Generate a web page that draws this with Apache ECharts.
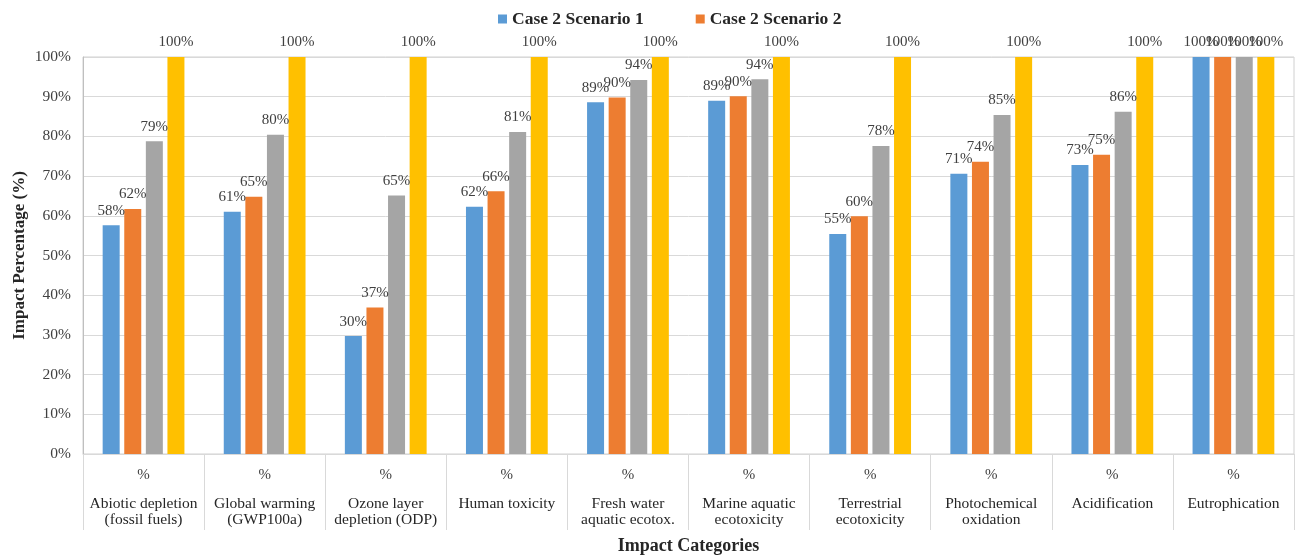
<!DOCTYPE html>
<html>
<head>
<meta charset="utf-8">
<script src="https://cdn.jsdelivr.net/npm/echarts@6/dist/echarts.min.js"></script>
<style>
  html, body { margin: 0; padding: 0; background: #fff; }
  #chart { width: 1296px; height: 555px; }
</style>
</head>
<body>
<div id="chart"></div>
<script>
var categories = [
  'Abiotic depletion\n(fossil fuels)',
  'Global warming\n(GWP100a)',
  'Ozone layer\ndepletion (ODP)',
  'Human toxicity',
  'Fresh water\naquatic ecotox.',
  'Marine aquatic\necotoxicity',
  'Terrestrial\necotoxicity',
  'Photochemical\noxidation',
  'Acidification',
  'Eutrophication'
]
var scenario1 = [57.6, 61.0, 29.7, 62.3, 88.6, 89.0, 55.4, 70.6, 72.8, 100]
var scenario2 = [61.7, 64.8, 36.9, 66.2, 89.8, 90.1, 59.9, 73.6, 75.4, 100]
var series3 = [78.8, 80.4, 65.1, 81.1, 94.2, 94.4, 77.6, 85.4, 86.2, 100]
var series4 = [100, 100, 100, 100, 100, 100, 100, 100, 100, 100]
var yTicks = [0, 10, 20, 30, 40, 50, 60, 70, 80, 90, 100]

var serif = '"Liberation Serif", "Times New Roman", serif'

function barSeries (name, data, color) {
  return {
    name: name,
    type: 'bar',
    data: data,
    barWidth: 17,
    barGap: '27%',
    itemStyle: { color: color },
    label: {
      show: true,
      position: 'top',
      distance: 7,
      fontFamily: serif,
      fontSize: 15,
      color: '#404040',
      formatter: function (p) { return Math.round(p.value) + '%' }
    }
  }
}

var chart = echarts.init(document.getElementById('chart'))
chart.setOption({
  animation: false,
  textStyle: { fontFamily: serif },
  legend: {
    data: ['Case 2 Scenario 1', 'Case 2 Scenario 2'],
    top: 5,
    left: 493,
    itemWidth: 9,
    itemHeight: 9,
    itemGap: 52,
    icon: 'rect',
    textStyle: { fontFamily: serif, fontSize: 17.5, fontWeight: 'bold', color: '#262626' }
  },
  grid: {
    left: 83,
    right: 2,
    top: 57,
    bottom: 101,
    outerBoundsMode: 'none',
    containLabel: false,
    show: true,
    borderColor: '#d0d0d0',
    borderWidth: 1
  },
  xAxis: {
    type: 'category',
    data: categories,
    name: 'Impact Categories',
    nameLocation: 'middle',
    nameGap: 83,
    nameMoveOverlap: false,
    nameTextStyle: { fontFamily: serif, fontSize: 18, fontWeight: 'bold', color: '#262626' },
    axisLine: { lineStyle: { color: '#d9d9d9' } },
    axisTick: { show: true, length: 76, lineStyle: { color: '#d9d9d9' } },
    axisLabel: {
      interval: 0,
      margin: 0,
      formatter: function (v) { return '{p|%}\n{n|' + v + '}' },
      rich: {
        p: { fontFamily: serif, fontSize: 15, lineHeight: 42, color: '#404040' },
        n: { fontFamily: serif, fontSize: 15.5, lineHeight: 16, color: '#262626' }
      }
    }
  },
  yAxis: {
    type: 'value',
    min: yTicks[0],
    max: yTicks[yTicks.length - 1],
    interval: 10,
    name: 'Impact Percentage (%)',
    nameLocation: 'middle',
    nameGap: 55,
    nameMoveOverlap: false,
    nameTextStyle: { fontFamily: serif, fontSize: 17, fontWeight: 'bold', color: '#262626' },
    axisLine: { show: true, lineStyle: { color: '#bfbfbf' } },
    axisTick: { show: false },
    axisLabel: {
      fontFamily: serif,
      fontSize: 15.5,
      color: '#404040',
      margin: 12,
      formatter: function (v) { return v + '%' }
    },
    splitLine: { lineStyle: { color: '#d9d9d9' } }
  },
  series: [
    barSeries('Case 2 Scenario 1', scenario1, '#5B9BD5'),
    barSeries('Case 2 Scenario 2', scenario2, '#ED7D31'),
    barSeries('Series 3', series3, '#A5A5A5'),
    barSeries('Series 4', series4, '#FFC000')
  ]
})
</script>
</body>
</html>
